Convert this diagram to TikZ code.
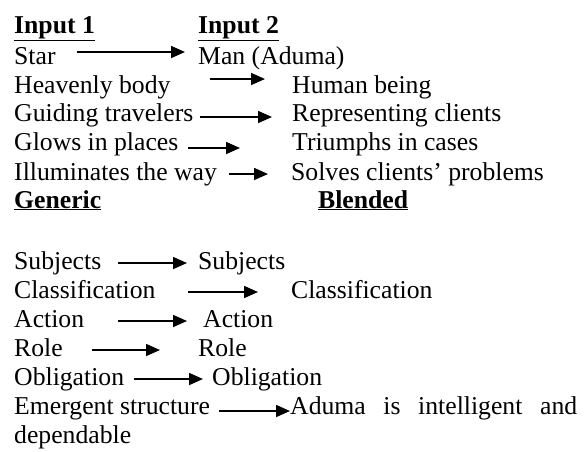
\documentclass[tikz,border=0pt]{standalone}
\usepackage{fontspec}
\setmainfont{Liberation Serif}
\usetikzlibrary{arrows.meta}
\tikzset{txt/.style={anchor=base west,inner sep=0pt,text height=17pt,text depth=5pt}, head/.style={txt,font=\bfseries}, flow/.style={-{Triangle[length=14pt,width=12pt]},line width=1.6pt}}

\begin{document}
\begin{tikzpicture}[x=1pt,y=-1pt]
\useasboundingbox (0,0) rectangle (588,451);
\fontsize{25.7}{29}\selectfont
% headings
\node[head] (in1) at (14,33) {\underline{Input 1}};
\node[head] (in2) at (198,33) {\underline{Input 2}};
\node[head] (gen) at (14,208) {\underline{Generic}};
\node[head] (bl) at (318,208) {\underline{Blended}};
% input 1 -> input 2
\node[txt] (star) at (14,64) {Star};
\node[txt] (man) at (198,64) {Man (Aduma)};
\node[txt] (hb) at (14,93) {Heavenly body};
\node[txt] (hum) at (292,93) {Human being};
\node[txt] (gt) at (14,121) {Guiding travelers};
\node[txt] (rep) at (292,121) {Representing clients};
\node[txt] (gp) at (14,150) {Glows in places};
\node[txt] (tri) at (292,150) {Triumphs in cases};
\node[txt] (ill) at (14,180) {Illuminates the way};
\node[txt] (sol) at (291,180) {Solves clients’ problems};
\draw[flow] ([xshift=21,yshift=6]star.east)--([xshift=-13,yshift=6]man.west);
\draw[flow] ([xshift=39,yshift=8]hb.east)--([xshift=-27,yshift=8]hum.west);
\draw[flow] ([xshift=6,yshift=-2]gt.east)--([xshift=-20,yshift=-2]rep.west);
\draw[flow] ([xshift=9,yshift=-4]gp.east)--([xshift=-52,yshift=-4]tri.west);
\draw[flow] ([xshift=12]ill.east)--([xshift=-23]sol.west);
% generic -> blended
\node[txt] (sub1) at (14,269) {Subjects};
\node[txt] (sub2) at (198,269) {Subjects};
\node[txt] (cl1) at (14,298) {Classification};
\node[txt] (cl2) at (291,298) {Classification};
\node[txt] (ac1) at (14,327) {Action};
\node[txt] (ac2) at (203,327) {Action};
\node[txt] (ro1) at (14,356) {Role};
\node[txt] (ro2) at (198,356) {Role};
\node[txt] (ob1) at (14,385) {Obligation};
\node[txt] (ob2) at (212,385) {Obligation};
\node[txt] (em) at (14,414) {Emergent structure};
\node[txt] (adu) at (290,414) {\makebox[287pt][s]{Aduma is intelligent and}};
\node[txt] (dep) at (14,443) {dependable};
\draw[flow] ([xshift=17]sub1.east)--([xshift=-11]sub2.west);
\draw[flow] ([xshift=32]cl1.east)--([xshift=-33]cl2.west);
\draw[flow] ([xshift=34]ac1.east)--([xshift=-16]ac2.west);
\draw[flow] ([xshift=29]ro1.east)--([xshift=-38]ro2.west);
\draw[flow] ([xshift=10]ob1.east)--([xshift=-9]ob2.west);
\draw[flow] ([xshift=9,yshift=-3]em.east)--([yshift=-3]adu.west);
\end{tikzpicture}
\end{document}
